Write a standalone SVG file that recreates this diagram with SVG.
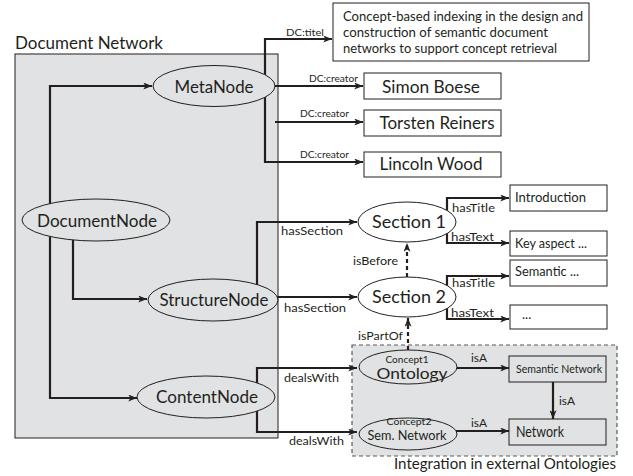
<svg xmlns="http://www.w3.org/2000/svg" width="633" height="476" viewBox="0 0 633 476">
<style>
text{font-family:Lato,"Open Sans","Liberation Sans",sans-serif;fill:#231f20}
.c{fill:none;stroke:#231f20;stroke-width:2.2}
.d{fill:none;stroke:#231f20;stroke-width:2.2;stroke-dasharray:4,3}
.eg{fill:#e1e2e3;stroke:#231f20;stroke-width:1}
.ew{fill:#fff;stroke:#231f20;stroke-width:1}
.b{fill:#fff;stroke:#231f20;stroke-width:1}
.bg{fill:#e1e2e3;stroke:#231f20;stroke-width:1}
.lbl{font-size:11.5px}
.sm{font-size:10px}
</style>
<defs>
<marker id="ar" viewBox="0 0 10 8" refX="10" refY="4" markerWidth="9" markerHeight="7" markerUnits="userSpaceOnUse" orient="auto">
<path d="M0,0 L10,4 L0,8 L2.5,4 z" fill="#231f20"/>
</marker>
</defs>
<g id="document-network">
<rect x="15" y="54" width="263" height="384" fill="#e1e2e3" stroke="#231f20" stroke-width="1"/>
<text x="15" y="49" font-size="17" textLength="148" lengthAdjust="spacingAndGlyphs">Document Network</text>
</g>
<g id="integration">
<rect x="352" y="345" width="265" height="111" fill="#e1e2e3" stroke="#5a5a5a" stroke-width="1.2" stroke-dasharray="4,3"/>
<text x="616" y="469" font-size="14.5" text-anchor="end" textLength="222" lengthAdjust="spacingAndGlyphs">Integration in external Ontologies</text>
</g>
<g id="connectors">
<path class="c" d="M50,210 V86 H152" marker-end="url(#ar)"/>
<path class="c" d="M73,230 V299 H147" marker-end="url(#ar)"/>
<path class="c" d="M50,230 V398 H137" marker-end="url(#ar)"/>
<path class="c" d="M265,100 V39 H332" marker-end="url(#ar)"/>
<path class="c" d="M265,100 V162 H363" marker-end="url(#ar)"/>
<path class="c" d="M270,86 H363" marker-end="url(#ar)"/>
<path class="c" d="M275,122 H363" marker-end="url(#ar)"/>
<path class="c" d="M257,292 V222 H357" marker-end="url(#ar)"/>
<path class="c" d="M272,297 H357" marker-end="url(#ar)"/>
<path class="d" d="M407,277 V243" marker-end="url(#ar)"/>
<path class="d" d="M408,350 V318" marker-end="url(#ar)"/>
<path class="c" d="M447,215 V198 H509" marker-end="url(#ar)"/>
<path class="c" d="M447,230 V243 H509" marker-end="url(#ar)"/>
<path class="c" d="M447,290 V276 H509" marker-end="url(#ar)"/>
<path class="c" d="M447,305 V319 H509" marker-end="url(#ar)"/>
<path class="c" d="M257,385 V368 H357" marker-end="url(#ar)"/>
<path class="c" d="M257,410 V432 H357" marker-end="url(#ar)"/>
<path class="c" d="M455,368 H509" marker-end="url(#ar)"/>
<path class="c" d="M553,382 V419" marker-end="url(#ar)"/>
<path class="c" d="M455,431 H509" marker-end="url(#ar)"/>
<text class="sm" x="286" y="36" textLength="38" lengthAdjust="spacingAndGlyphs">DC:titel</text>
<text class="sm" x="309" y="82" textLength="49" lengthAdjust="spacingAndGlyphs">DC:creator</text>
<text class="sm" x="300" y="117" textLength="49" lengthAdjust="spacingAndGlyphs">DC:creator</text>
<text class="sm" x="300" y="158" textLength="49" lengthAdjust="spacingAndGlyphs">DC:creator</text>
<text class="lbl" x="281" y="235" textLength="62" lengthAdjust="spacingAndGlyphs">hasSection</text>
<text class="lbl" x="284" y="312" textLength="62" lengthAdjust="spacingAndGlyphs">hasSection</text>
<text class="lbl" x="353" y="265" textLength="45" lengthAdjust="spacingAndGlyphs">isBefore</text>
<text class="lbl" x="358" y="340" textLength="45" lengthAdjust="spacingAndGlyphs">isPartOf</text>
<text class="lbl" x="284" y="382" textLength="55" lengthAdjust="spacingAndGlyphs">dealsWith</text>
<text class="lbl" x="289" y="445" textLength="55" lengthAdjust="spacingAndGlyphs">dealsWith</text>
<text class="lbl" x="452" y="212" textLength="43" lengthAdjust="spacingAndGlyphs">hasTitle</text>
<text class="lbl" x="451" y="241" textLength="43" lengthAdjust="spacingAndGlyphs">hasText</text>
<text class="lbl" x="452" y="287" textLength="43" lengthAdjust="spacingAndGlyphs">hasTitle</text>
<text class="lbl" x="451" y="317" textLength="43" lengthAdjust="spacingAndGlyphs">hasText</text>
<text class="lbl" x="471" y="362" textLength="16" lengthAdjust="spacingAndGlyphs">isA</text>
<text class="lbl" x="559" y="405" textLength="16" lengthAdjust="spacingAndGlyphs">isA</text>
<text class="lbl" x="471" y="427" textLength="16" lengthAdjust="spacingAndGlyphs">isA</text>
</g>
<g id="MetaNode">
<ellipse class="eg" cx="214" cy="86" rx="61" ry="20.5"/>
<text x="214" y="93" font-size="18" text-anchor="middle" textLength="79" lengthAdjust="spacingAndGlyphs">MetaNode</text>
</g>
<g id="DocumentNode">
<ellipse class="eg" cx="96" cy="220" rx="74" ry="21"/>
<text x="97" y="227" font-size="18" text-anchor="middle" textLength="120" lengthAdjust="spacingAndGlyphs">DocumentNode</text>
</g>
<g id="StructureNode">
<ellipse class="eg" cx="213" cy="300" rx="65" ry="21"/>
<text x="214" y="306" font-size="18" text-anchor="middle" textLength="109" lengthAdjust="spacingAndGlyphs">StructureNode</text>
</g>
<g id="ContentNode">
<ellipse class="eg" cx="206" cy="397" rx="69" ry="21"/>
<text x="207" y="403" font-size="18" text-anchor="middle" textLength="102" lengthAdjust="spacingAndGlyphs">ContentNode</text>
</g>
<g id="Title">
<rect class="b" x="333" y="3" width="256" height="58"/>
<text x="343" y="21" font-size="13" textLength="240" lengthAdjust="spacingAndGlyphs">Concept-based indexing in the design and</text>
<text x="343" y="37" font-size="13" textLength="205" lengthAdjust="spacingAndGlyphs">construction of semantic document</text>
<text x="343" y="53" font-size="13" textLength="214" lengthAdjust="spacingAndGlyphs">networks to support concept retrieval</text>
</g>
<g id="SimonBoese">
<rect class="b" x="364" y="73" width="137" height="26"/>
<text x="431" y="93" font-size="17" text-anchor="middle" textLength="98" lengthAdjust="spacingAndGlyphs">Simon Boese</text>
</g>
<g id="TorstenReiners">
<rect class="b" x="364" y="110" width="137" height="26"/>
<text x="437" y="129" font-size="17" text-anchor="middle" textLength="115" lengthAdjust="spacingAndGlyphs">Torsten Reiners</text>
</g>
<g id="LincolnWood">
<rect class="b" x="364" y="152" width="137" height="25"/>
<text x="431" y="170" font-size="17" text-anchor="middle" textLength="103" lengthAdjust="spacingAndGlyphs">Lincoln Wood</text>
</g>
<g id="Section1">
<ellipse class="ew" cx="407" cy="222" rx="49" ry="20"/>
<text x="409" y="228" font-size="18" text-anchor="middle" textLength="74" lengthAdjust="spacingAndGlyphs">Section 1</text>
</g>
<g id="Section2">
<ellipse class="ew" cx="407" cy="297" rx="49" ry="20"/>
<text x="409" y="303" font-size="18" text-anchor="middle" textLength="74" lengthAdjust="spacingAndGlyphs">Section 2</text>
</g>
<g id="Introduction">
<rect class="b" x="510" y="185" width="97" height="26"/>
<text x="515" y="202" font-size="13" textLength="71" lengthAdjust="spacingAndGlyphs">Introduction</text>
</g>
<g id="KeyAspect">
<rect class="b" x="510" y="231" width="97" height="25"/>
<text x="515" y="248" font-size="13" textLength="72" lengthAdjust="spacingAndGlyphs">Key aspect ...</text>
</g>
<g id="SemanticTitle">
<rect class="b" x="510" y="260" width="97" height="26"/>
<text x="515" y="276" font-size="13" textLength="64" lengthAdjust="spacingAndGlyphs">Semantic ...</text>
</g>
<g id="Ellipsis">
<rect class="b" x="510" y="305" width="97" height="24"/>
<text x="522" y="319" font-size="13">...</text>
</g>
<g id="Concept1">
<ellipse class="eg" cx="408" cy="367" rx="49" ry="17"/>
<text x="407" y="363" font-size="9" text-anchor="middle" textLength="43" lengthAdjust="spacingAndGlyphs">Concept1</text>
<text x="412" y="379" font-size="14.5" text-anchor="middle" textLength="71" lengthAdjust="spacingAndGlyphs">Ontology</text>
</g>
<g id="Concept2">
<ellipse class="eg" cx="408" cy="434" rx="49" ry="16"/>
<text x="409" y="425" font-size="9" text-anchor="middle" textLength="45" lengthAdjust="spacingAndGlyphs">Concept2</text>
<text x="407" y="440" font-size="13" text-anchor="middle" textLength="79" lengthAdjust="spacingAndGlyphs">Sem. Network</text>
</g>
<g id="SemanticNetwork">
<rect class="bg" x="509" y="356" width="97" height="26"/>
<text x="516" y="373" font-size="11" textLength="86" lengthAdjust="spacingAndGlyphs">Semantic Network</text>
</g>
<g id="Network">
<rect class="bg" x="509" y="419" width="97" height="26"/>
<text x="516" y="437" font-size="14.5" textLength="48" lengthAdjust="spacingAndGlyphs">Network</text>
</g>
</svg>
